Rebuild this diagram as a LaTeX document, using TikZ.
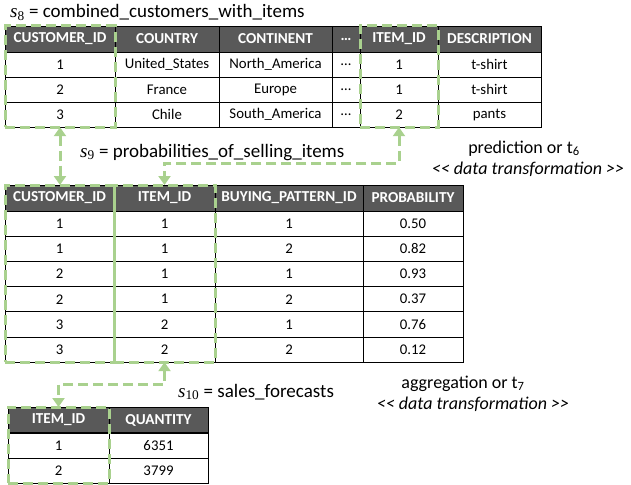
\documentclass[tikz,border=0pt]{standalone}
\usepackage{fontspec}
\setmainfont{Carlito}
\newfontfamily\kindfont{Carlito}
\newfontfamily\setfont{Liberation Serif}
\usetikzlibrary{arrows.meta,fit}

\definecolor{hdrgrey}{HTML}{595959}
\definecolor{keygreen}{HTML}{A9D18E}

\newcommand{\setname}[1]{{\setfont\itshape s}\textsubscript{\setfont #1}}

\tikzset{
  cell/.style={draw=black, line width=0.8pt, inner sep=0pt, outer sep=0pt, anchor=north west,
    minimum height=25.2pt, font=\fontsize{14.8}{17}\selectfont},
  hcell/.style={cell, fill=hdrgrey, text=white, minimum height=26pt, font=\fontsize{15.2}{17}\selectfont\bfseries},
  keybox/.style={draw=keygreen, line width=3pt, dash pattern=on 10pt off 5pt, inner sep=0pt, outer sep=0pt},
  link/.style={draw=keygreen, line width=3pt, dash pattern=on 10pt off 5pt,
    {Triangle[length=9pt,width=12pt]}-{Triangle[length=9pt,width=12pt]}},
  lbl/.style={font=\fontsize{19}{22}\selectfont, inner sep=0pt, anchor=base west},
  kind/.style={font=\fontsize{18}{21}\selectfont, inner sep=0pt, anchor=base},
}

\begin{document}
\begin{tikzpicture}[x=1pt, y=-1pt]
    \useasboundingbox (0,0) rectangle (631,484);

    % s8 = combined_customers_with_items
    \node[lbl] (s8name) at (10,18) {\setname{8} = combined\_customers\_with\_items};
    \foreach \x/\w/\t [count=\c] in {5/110/CUSTOMER\_ID, 115/104/COUNTRY, 219/113/CONTINENT,
        332/28/…, 360/78/ITEM\_ID, 438/103/DESCRIPTION}
        \node[hcell, minimum width=\w] (s8-0-\c) at (\x,26) {\t};
    \foreach \r/\a/\b/\d/\e/\f in {1/1/United\_States/North\_America/1/t-shirt,
        2/2/France/Europe/1/t-shirt, 3/3/Chile/South\_America/2/pants} {
        \node[cell, minimum width=110] (s8-\r-1) at (5,{27+25*\r}) {\a};
        \node[cell, minimum width=104] (s8-\r-2) at (115,{27+25*\r}) {\b};
        \node[cell, minimum width=113] (s8-\r-3) at (219,{27+25*\r}) {\d};
        \node[cell, minimum width=28] (s8-\r-4) at (332,{27+25*\r}) {…};
        \node[cell, minimum width=78] (s8-\r-5) at (360,{27+25*\r}) {\e};
        \node[cell, minimum width=103] (s8-\r-6) at (438,{27+25*\r}) {\f};
    }

    % s9 = probabilities_of_selling_items
    \node[lbl] (s9name) at (80,157) {\setname{9} = probabilities\_of\_selling\_items};
    \foreach \x/\w/\t [count=\c] in {5/109/CUSTOMER\_ID, 114/101/ITEM\_ID,
        215/148/BUYING\_PATTERN\_ID, 363/100/PROBABILITY}
        \node[hcell, minimum width=\w] (s9-0-\c) at (\x,185) {\t};
    \foreach \a/\b/\d/\e [count=\r] in {1/1/1/0.50, 1/1/2/0.82, 2/1/1/0.93,
        2/1/2/0.37, 3/2/1/0.76, 3/2/2/0.12} {
        \node[cell, minimum width=109] (s9-\r-1) at (5,{185.8+25.2*\r}) {\a};
        \node[cell, minimum width=101] (s9-\r-2) at (114,{185.8+25.2*\r}) {\b};
        \node[cell, minimum width=148] (s9-\r-3) at (215,{185.8+25.2*\r}) {\d};
        \node[cell, minimum width=100] (s9-\r-4) at (363,{185.8+25.2*\r}) {\e};
    }

    % s10 = sales_forecasts
    \node[lbl] (s10name) at (178,397) {\setname{10} = sales\_forecasts};
    \node[hcell, minimum width=101] (s10-0-1) at (8,407) {ITEM\_ID};
    \node[hcell, minimum width=99] (s10-0-2) at (109,407) {QUANTITY};
    \foreach \a/\b [count=\r] in {1/6351, 2/3799} {
        \node[cell, minimum width=101] (s10-\r-1) at (8,{407.5+25.2*\r}) {\a};
        \node[cell, minimum width=99] (s10-\r-2) at (109,{407.5+25.2*\r}) {\b};
    }

    % transformations
    \node[kind] (pred) at (524,153) {prediction or t\textsubscript{6}};
    \node[kind] (predkind) at (528,174) {\kindfont\itshape << data transformation >>};
    \node[kind] (aggr) at (463,388) {aggregation or t\textsubscript{7}};
    \node[kind] (aggrkind) at (473,409) {\kindfont\itshape << data transformation >>};

    % key columns
    \node[keybox, fit=(s8-0-1)(s8-3-1)] (s8cust) {};
    \node[keybox, fit=(s8-0-5)(s8-3-5)] (s8item) {};
    \node[keybox, fit=(s9-0-1)(s9-6-1)] (s9cust) {};
    \node[keybox, fit=(s9-0-2)(s9-6-2)] (s9item) {};
    \node[keybox, fit=(s10-0-1)(s10-2-1)] (s10item) {};

    \coordinate (bend9) at (0,163);
    \coordinate (bend10) at (0,384);
    \draw[link] (s8cust.south) -- (s8cust.south |- s9cust.north);
    \draw[link] (s8item.south) -- (s8item.south |- bend9) -| (s9item.north);
    \draw[link] (s9item.south) -- (s9item.south |- bend10) -| (s10item.north);
\end{tikzpicture}
\end{document}
